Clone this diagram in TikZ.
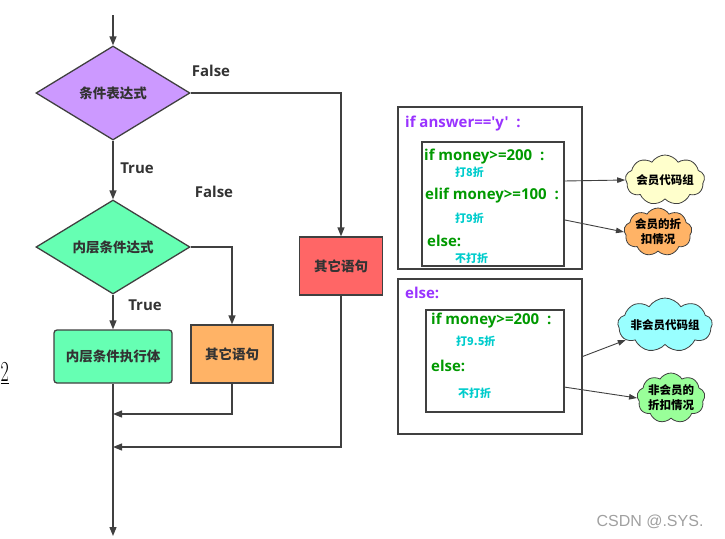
\documentclass[tikz,border=0pt]{standalone}
\usepackage{fontspec}
\newfontfamily\cjk{Noto Sans CJK SC}
\newfontfamily\lat{Open Sans}
\newfontfamily\wm{Liberation Sans}
\usetikzlibrary{shapes.geometric,shapes.symbols,arrows.meta}
\definecolor{linec}{HTML}{404040}
\definecolor{bordc}{HTML}{404040}
\definecolor{txtc}{HTML}{333333}
\definecolor{purpf}{HTML}{CC99FF}
\definecolor{greenf}{HTML}{66FFB3}
\definecolor{orangef}{HTML}{FFB366}
\definecolor{redf}{HTML}{FF6666}
\definecolor{purpt}{HTML}{9933FF}
\definecolor{codeg}{HTML}{009900}
\definecolor{subc}{HTML}{00CCCC}
\definecolor{cyell}{HTML}{FFFFCC}
\definecolor{ccyan}{HTML}{99FFFF}
\definecolor{cgreen}{HTML}{99FF99}
\definecolor{wmc}{HTML}{A0A0A0}
\begin{document}
\begin{tikzpicture}[x=1pt,y=-1pt,
  flow/.style={draw=linec, line width=1.3pt, -{Triangle[length=9pt,width=7pt]}},
  shapebox/.style={draw=bordc, line width=1.3pt, font=\cjk\bfseries\fontsize{13.5}{15}\selectfont, text=txtc, inner sep=0pt},
  dia/.style={shapebox, diamond, minimum width=154pt, minimum height=94pt, aspect=1.64},
  lbl/.style={font=\lat\bfseries\fontsize{15}{17}\selectfont, text=txtc},
  code/.style={anchor=west, font=\lat\bfseries\fontsize{15}{17}\selectfont, text=codeg, inner sep=0pt},
  pcode/.style={code, text=purpt},
  subt/.style={anchor=west, font=\cjk\bfseries\fontsize{11}{12}\selectfont, text=subc, inner sep=0pt},
  frame/.style={draw=bordc, line width=1.2pt, inner sep=0pt},
  cloudn/.style={cloud, cloud puffs=9, cloud puff arc=115, cloud ignores aspect, draw=bordc, line width=0.8pt, font=\cjk\bfseries\fontsize{11.5}{15}\selectfont, text=black, align=center, inner sep=0pt},
  sarr/.style={draw=linec, line width=0.9pt, -{Triangle[length=8pt,width=5.5pt]}}
]
\useasboundingbox (0,0) rectangle (725,538);

% left flowchart
\coordinate (start) at (113,15);
\node[dia, fill=purpf] (d1) at (113,93) {条件表达式};
\node[dia, fill=greenf] (d2) at (113,247) {内层条件达式};
\node[shapebox, fill=redf, minimum width=83pt, minimum height=58pt] (red) at (341,266) {其它语句};
\node[shapebox, fill=greenf, rounded corners=3pt, minimum width=118pt, minimum height=53pt] (body) at (113,356.5) {内层条件执行体};
\node[shapebox, fill=orangef, minimum width=82pt, minimum height=58pt] (org) at (232,354) {其它语句};
\coordinate (j1) at (113,414);
\coordinate (j2) at (113,447);
\coordinate (finish) at (113,536);

\draw[flow] (start) -- (d1.north);
\draw[flow] (d1.east) -| (red.north);
\draw[flow] (d1.south) -- (d2.north);
\draw[flow] (d2.east) -| (org.north);
\draw[flow] (d2.south) -- (body.north);
\draw[flow] (body.south) -- (finish);
\draw[flow] (org.south) |- (j1);
\draw[flow] (red.south) |- (j2);

\node[lbl] (f1) at (211,71) {False};
\node[lbl] (t1) at (137,168) {True};
\node[lbl] (f2) at (214,192) {False};
\node[lbl] (t2) at (145,305) {True};

\node[anchor=west, inner sep=0pt, xscale=0.62, font=\fontsize{29}{30}\selectfont] (two) at (0.5,373) {\underline{2}};

% right: code boxes
\node[frame, minimum width=184pt, minimum height=162pt] (outer1) at (490,188) {};
\node[frame, minimum width=142pt, minimum height=124pt] (inner1) at (493,204) {};
\node[frame, minimum width=184pt, minimum height=155pt] (outer2) at (490,356.5) {};
\node[frame, minimum width=138pt, minimum height=102pt] (inner2) at (495,361) {};

\node[pcode] (a1) at (405,124) {if answer=='y'~~:};
\node[code] (a2) at (424,157) {if money>=200~~:};
\node[subt] (a3) at (455,172) {打8折};
\node[code] (a4) at (425,196) {elif money>=100~~:};
\node[subt] (a5) at (455,218) {打9折};
\node[code] (a6) at (427,241) {else:};
\node[subt] (a7) at (455,258) {不打折};

\node[pcode] (b1) at (405,293) {else:};
\node[code] (b2) at (431,321) {if money>=200~~:};
\node[subt] (b3) at (456,341) {打9.5折};
\node[code] (b4) at (431,366) {else:};
\node[subt] (b5) at (458,393) {不打折};

% clouds
\node[cloudn, fill=cyell, minimum width=69pt, minimum height=50pt] (c1) at (665,180) {会员代码组};
\node[cloudn, fill=orangef, minimum width=60pt, minimum height=48pt] (c2) at (658,232) {会员的折\\扣情况};
\node[cloudn, fill=ccyan, minimum width=84pt, minimum height=54pt] (c3) at (665,325) {非会员代码组};
\node[cloudn, fill=cgreen, minimum width=63pt, minimum height=50pt] (c4) at (671,398) {非会员的\\折扣情况};

\coordinate (s1) at (564,181);
\coordinate (s2) at (565,220);
\coordinate (s4) at (564,387);
\draw[sarr] (s1) -- (c1.west);
\draw[sarr] (s2) -- (c2.west);
\draw[sarr] (outer2.east) -- (c3);
\draw[sarr] (s4) -- (c4.west);

\node[font=\wm\fontsize{16}{18}\selectfont, text=wmc] (wmark) at (650,522) {CSDN @.SYS.};
\end{tikzpicture}
\end{document}
